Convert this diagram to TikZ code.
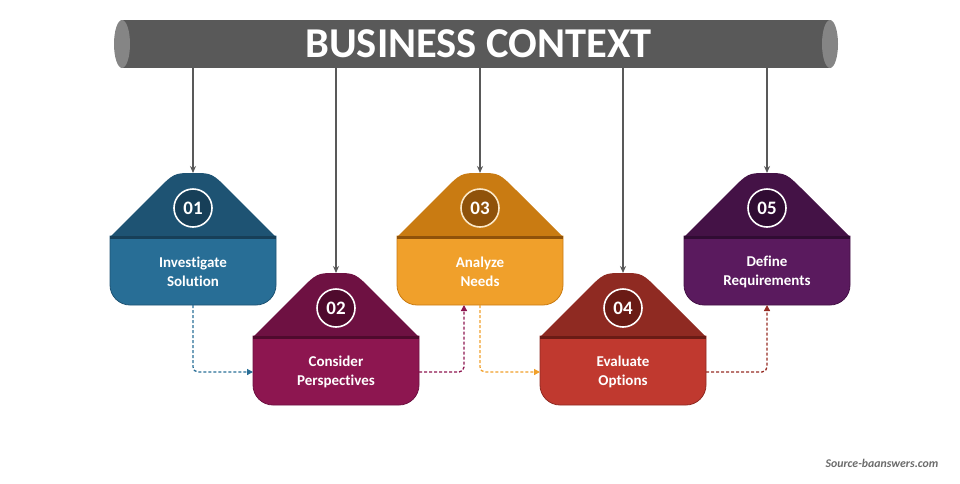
\documentclass[tikz,border=0pt]{standalone}
\usepackage{fontspec}
\setmainfont{Carlito}[Ligatures=NoCommon]
\usetikzlibrary{arrows.meta,shapes.geometric}
\definecolor{barbody}{HTML}{595959}
\definecolor{barcap}{HTML}{858585}
\definecolor{hatA}{HTML}{1E5373}\definecolor{bodyA}{HTML}{286E96}\definecolor{circA}{HTML}{173F58}
\definecolor{hatB}{HTML}{6E1142}\definecolor{bodyB}{HTML}{8D1650}\definecolor{circB}{HTML}{4F0A2D}
\definecolor{hatC}{HTML}{C97B12}\definecolor{bodyC}{HTML}{F0A02B}\definecolor{circC}{HTML}{8F520A}\definecolor{ringC}{HTML}{FBE8C8}
\definecolor{hatD}{HTML}{8F2A22}\definecolor{bodyD}{HTML}{C0392F}\definecolor{circD}{HTML}{6A1B15}
\definecolor{hatE}{HTML}{441246}\definecolor{bodyE}{HTML}{5A1A5E}\definecolor{circE}{HTML}{300C33}
\definecolor{srcgray}{HTML}{6B6B6B}
\tikzset{
  downarrow/.style={draw=barbody, line width=1.2pt, -{Stealth[length=7pt,width=6pt]}},
  flow/.style={line width=1.3pt, dash pattern=on 3pt off 2pt, rounded corners=5pt, -{Triangle[length=6pt,width=6pt]}},
  numcircle/.style={circle, line width=1.6pt, minimum size=38pt, inner sep=0pt, text=white, font=\bfseries\fontsize{19}{19}\selectfont},
  steptext/.style={align=center, text=white, font=\bfseries\fontsize{15}{19}\selectfont},
  barcapstyle/.style={ellipse, fill=barcap, minimum width=16pt, minimum height=48pt, inner sep=0pt}
}
\newcommand\mkstep[9]{%
  \begin{scope}[shift={(#2,#3)}]
    \fill[#4] (-83,64) -- (-37,18) .. controls (-19,0) .. (0,0) .. controls (19,0) .. (37,18) -- (83,64) -- cycle;
    \filldraw[fill=#5, draw=#4, line width=0.8pt] (-83,63) -- (-83,112) .. controls (-83,123) and (-74,132) .. (-63,132) -- (63,132) .. controls (74,132) and (83,123) .. (83,112) -- (83,63) -- cycle;
    \draw[#6, line width=2.5pt] (-83,64.5) -- (83,64.5);
    \node[numcircle, fill=#6, draw=#9] (n#1) at (0,35) {#7};
    \node[steptext] (t#1) at (0,99) {#8};
    \coordinate (top#1) at (0,0);
    \coordinate (bot#1) at (0,132);
    \coordinate (lft#1) at (-83,99);
    \coordinate (rgt#1) at (83,99);
  \end{scope}}
\begin{document}
\begin{tikzpicture}[x=1pt,y=-1pt]
\useasboundingbox (0,0) rectangle (960,483);
% cylinder bar
\node[fill=barbody, minimum width=708pt, minimum height=48pt, inner sep=0pt] (bar) at (476,44) {};
\node[barcapstyle] (capl) at (122,44) {};
\node[barcapstyle] (capr) at (830,44) {};
\node[text=white, font=\bfseries\fontsize{42.5}{42.5}\selectfont] (title) at (478.5,44) {BUSINESS CONTEXT};
% steps
\mkstep{1}{193}{173}{hatA}{bodyA}{circA}{01}{Investigate\\Solution}{white}
\mkstep{2}{336}{273}{hatB}{bodyB}{circB}{02}{Consider\\Perspectives}{white}
\mkstep{3}{480}{173}{hatC}{bodyC}{circC}{03}{Analyze\\Needs}{ringC}
\mkstep{4}{623}{273}{hatD}{bodyD}{circD}{04}{Evaluate\\Options}{white}
\mkstep{5}{767}{173}{hatE}{bodyE}{circE}{05}{Define\\Requirements}{white}
% arrows from the bar
\foreach \i in {1,...,5} \draw[downarrow] (bar.south -| top\i) -- (top\i);
% dashed flow
\coordinate (in3) at (464,305);
\draw[flow, color=bodyA] (bot1) |- (lft2);
\draw[flow, color=bodyB] (rgt2) -| (in3);
\draw[flow, color=bodyC] (bot3) |- (lft4);
\draw[flow, color=hatD!85!bodyD] (rgt4) -| (bot5);
% source
\node[text=srcgray, font=\bfseries\itshape\fontsize{11.8}{11.8}\selectfont] (src) at (882,463) {Source-baanswers.com};
\end{tikzpicture}
\end{document}
